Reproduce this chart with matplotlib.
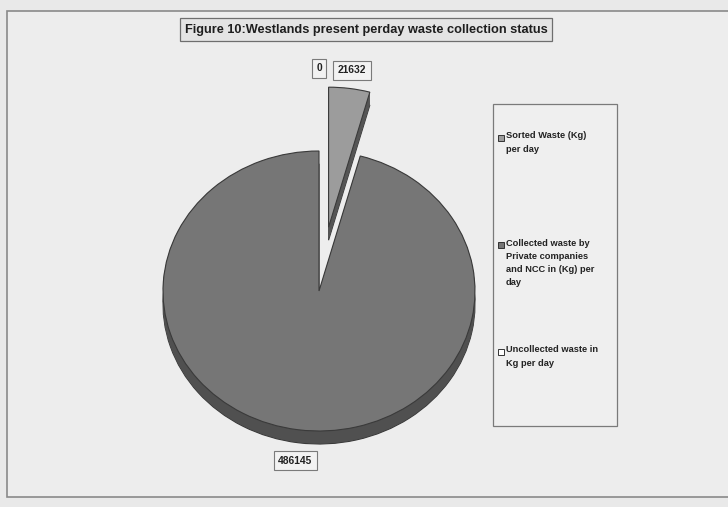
import numpy as np
import matplotlib
matplotlib.use("Agg")
import matplotlib.pyplot as plt
from matplotlib.patches import Rectangle

# ---- data ----
title = "Figure 10:Westlands present perday waste collection status"
categories = [
    "Sorted Waste (Kg)\nper day",
    "Collected waste by\nPrivate companies\nand NCC in (Kg) per\nday",
    "Uncollected waste in\nKg per day",
]
values = [21632, 486145, 0]
value_labels = ["21632", "486145", "0"]

# ---- styling ----
top_colors = ["#9c9c9c", "#767676", "#ffffff"]
side_colors = ["#555555", "#505050", "#dddddd"]
explode_frac = [0.46, 0.0, 0.46]
edge = "#3a3a3a"
family = "Liberation Sans"

W, H = 728, 507
fig = plt.figure(figsize=(W / 100, H / 100), dpi=100, facecolor="#e9e9e9")

# overlay axes in pixel coordinates for frame, title and legend
bg = fig.add_axes([0, 0, 1, 1])
bg.set_xlim(0, W)
bg.set_ylim(H, 0)
bg.axis("off")
bg.add_patch(Rectangle((0, 0), W, H, facecolor="#e9e9e9", edgecolor="none", zorder=0))
bg.add_patch(Rectangle((7, 11), W + 10, 486, facecolor="#ededed",
                       edgecolor="#8a8a8a", linewidth=1.2, zorder=1))

# pie axes: horizontal radius 156 px, vertical radius 140 px
RX, RY = 156.0, 140.0
s = RX / RY
cx, cy = 319.0, 291.0
depth = 13.0
pie_ax = fig.add_axes([0, 0, 1, 1])
pie_ax.patch.set_alpha(0)

center = (cx, (H - cy) * s)
explode = [f * RX for f in explode_frac]
kw = dict(explode=explode, startangle=90, counterclock=False, radius=RX)

# extruded side of the 3D pie
for d in np.arange(depth, 0, -0.5):
    wed, _ = pie_ax.pie(values, colors=side_colors,
                        center=(center[0], center[1] - d * s),
                        wedgeprops=dict(linewidth=0.8 if d == depth else 0,
                                        edgecolor=edge), **kw)
    wed[2].set_visible(False)

# top face
wedges, _ = pie_ax.pie(values, colors=top_colors, center=center,
                       wedgeprops=dict(linewidth=0.8, edgecolor=edge), **kw)
wedges[2].set_edgecolor("none")

pie_ax.set_aspect("auto")
pie_ax.set_xlim(0, W)
pie_ax.set_ylim(0, H * s)
pie_ax.axis("off")

# value labels outside each slice
for w, lab in zip(wedges, value_labels):
    th = np.deg2rad((w.theta1 + w.theta2) / 2)
    x = w.center[0] + 1.13 * w.r * np.cos(th)
    y = w.center[1] + 1.13 * w.r * np.sin(th)
    if np.sin(th) < 0:
        y -= depth * s
    pie_ax.text(x, y, lab, ha="center", va="center", fontsize=7.4,
                fontweight="bold", family=family, color="#222222",
                bbox=dict(boxstyle="square,pad=0.45", facecolor="#f2f2f2",
                          edgecolor="#7a7a7a", linewidth=0.8))

# title
bg.text(366, 29.5, title, ha="center", va="center", fontsize=9.2,
        fontweight="bold", family=family, color="#1e1e1e",
        bbox=dict(boxstyle="square,pad=0.4", facecolor="#e4e4e4",
                  edgecolor="#6e6e6e", linewidth=0.9))

# legend
bg.add_patch(Rectangle((493, 104), 124, 322, facecolor="#efefef",
                       edgecolor="#7a7a7a", linewidth=0.9, zorder=2))
for i, (lab, w) in enumerate(zip(categories, wedges)):
    y0 = 138 + 107 * i
    bg.add_patch(Rectangle((497.5, y0 - 3), 6, 6, facecolor=w.get_facecolor(),
                           edgecolor="#333333", linewidth=0.7, zorder=3))
    bg.text(506, y0 - 6.5, lab, ha="left", va="top", fontsize=6.7,
            fontweight="bold", family=family, color="#222222",
            linespacing=1.6, zorder=3)

fig.savefig("out.png", dpi=100, facecolor=fig.get_facecolor())
